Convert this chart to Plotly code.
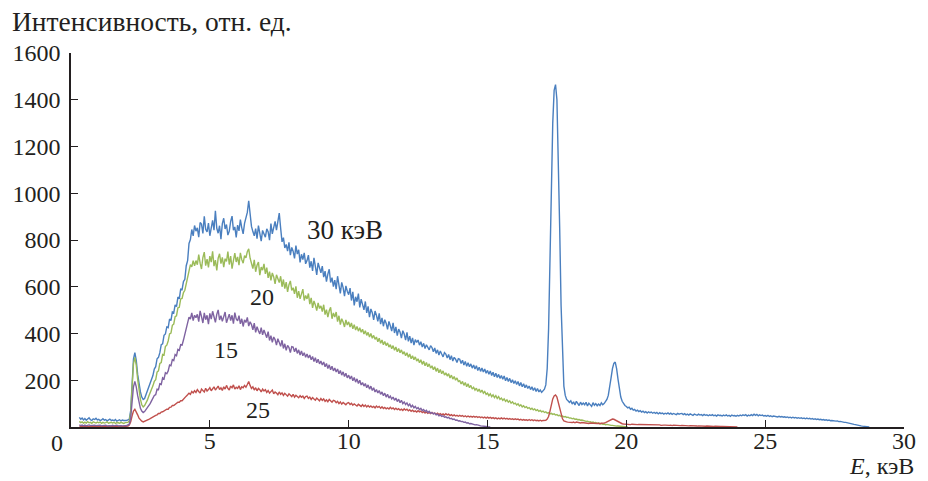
import numpy as np
import plotly.graph_objects as go

# Energy grid: every spectrum starts at E_START (keV), one channel per E_STEP
E_START = 0.3
E_STEP = 0.05

# Intensities. First row: 0.30-0.45 keV, then one row per half keV (10 channels)
spec_30 = [
    41, 33, 38, 30,
    36, 29, 34, 39, 31, 28, 35, 32, 37, 30,
    33, 27, 30, 35, 29, 32, 26, 31, 34, 28,
    30, 27, 32, 25, 29, 31, 26, 30, 28, 27,
    28, 30, 34, 70, 190, 290, 318, 285, 225, 180,
    150, 128, 118, 122, 138, 150, 172, 182, 205, 220,
    248, 258, 292, 298, 318, 352, 356, 392, 398, 428,
    425, 462, 455, 492, 488, 522, 515, 556, 548, 590,
    588, 622, 632, 690, 712, 785, 802, 845, 818, 862,
    838, 852, 812, 875, 868, 828, 901, 846, 835, 872,
    818, 856, 884, 842, 925, 850, 829, 861, 804, 870,
    893, 847, 866, 821, 838, 880, 902, 842, 856, 811,
    864, 839, 887, 852, 826, 871, 890, 918, 968, 902,
    858, 836, 818, 849, 806, 862, 827, 795, 841, 824,
    812, 848, 835, 799, 870, 826, 851, 880, 842, 888,
    915, 851, 792, 810, 766, 781, 752, 790, 735, 768,
    752, 721, 776, 740, 758, 704, 739, 716, 745, 698,
    712, 735, 682, 709, 668, 724, 690, 651, 702, 674,
    660, 688, 641, 667, 622, 654, 675, 618, 639, 601,
    628, 590, 645, 607, 572, 619, 596, 560, 604, 581,
    566, 594, 541, 578, 520, 557, 536, 571, 512, 547,
    524, 501, 537, 488, 516, 470, 505, 489, 458, 496,
    478, 452, 486, 440, 467, 431, 459, 444, 418, 452,
    433, 410, 446, 402, 428, 391, 419, 406, 380, 412,
    398, 372, 405, 366, 389, 359, 381, 350, 374, 362,
    372, 350, 365, 342, 358, 336, 352, 340, 330, 348,
    340, 322, 338, 315, 330, 308, 325, 312, 300, 318,
    312, 295, 310, 288, 305, 282, 298, 290, 276, 292,
    290, 272, 286, 265, 280, 260, 275, 258, 270, 252,
    265, 248, 262, 242, 256, 238, 252, 235, 248, 230,
    242, 226, 240, 220, 234, 215, 230, 212, 225, 208,
    220, 204, 218, 198, 212, 195, 208, 190, 202, 186,
    198, 182, 195, 176, 190, 172, 185, 168, 180, 165,
    175, 160, 172, 156, 168, 152, 165, 150, 158, 148,
    155, 162, 180, 250, 420, 720, 1020, 1300, 1440, 1465,
    1400, 1180, 850, 520, 290, 175, 135, 118, 112, 105,
    112, 98, 108, 94, 110, 100, 92, 106, 96, 102,
    95, 106, 90, 102, 97, 88, 104, 93, 100, 91,
    98, 92, 103, 95, 100, 108, 118, 135, 165, 210,
    250, 272, 278, 250, 205, 160, 128, 110, 100, 92,
    88, 82, 85, 76, 80, 72, 75, 68, 72, 66,
    70, 64, 68, 62, 66, 60, 65, 61, 64, 59,
    63, 58, 62, 56, 61, 57, 60, 55, 59, 56,
    60, 55, 59, 54, 58, 56, 53, 58, 55, 57,
    58, 53, 57, 52, 55, 51, 56, 53, 50, 55,
    54, 50, 55, 51, 53, 49, 54, 50, 52, 48,
    52, 49, 53, 48, 51, 47, 52, 49, 50, 47,
    51, 48, 52, 47, 50, 46, 51, 48, 49, 46,
    50, 47, 51, 48, 52, 49, 53, 47, 51, 48,
    53, 49, 55, 50, 54, 48, 52, 49, 51, 47,
    49, 46, 50, 45, 48, 44, 47, 45, 46, 43,
    46, 43, 45, 42, 44, 41, 43, 40, 42, 39,
    42, 39, 41, 38, 40, 37, 39, 36, 38, 35,
    38, 35, 37, 34, 36, 33, 35, 32, 34, 31,
    33, 30, 32, 29, 31, 28, 30, 27, 28, 26,
    27, 25, 26, 23, 24, 22, 22, 20, 20, 18,
    17, 16, 14, 13, 11, 10, 8, 7, 6, 5,
    4, 3, 2, 1, 1, 0,
]

spec_20 = [
    24, 19, 22, 17,
    21, 17, 23, 18, 20, 16, 22, 19, 17, 21,
    18, 21, 16, 20, 17, 19, 22, 16, 18, 20,
    17, 20, 15, 19, 18, 16, 20, 17, 15, 19,
    18, 20, 26, 60, 170, 270, 298, 265, 205, 150,
    118, 95, 86, 92, 102, 115, 132, 145, 160, 176,
    195, 202, 235, 240, 272, 276, 310, 308, 345, 350,
    368, 398, 402, 435, 440, 472, 476, 510, 512, 548,
    550, 575, 585, 615, 640, 668, 695, 685, 712, 690,
    712, 694, 738, 701, 676, 725, 748, 690, 718, 683,
    731, 705, 752, 688, 714, 670, 722, 741, 699, 726,
    684, 720, 708, 750, 695, 731, 677, 712, 744, 706,
    728, 692, 745, 716, 701, 733, 724, 750, 762, 722,
    701, 678, 715, 664, 692, 706, 650, 684, 671, 698,
    655, 682, 638, 665, 627, 659, 642, 612, 651, 630,
    618, 645, 600, 631, 592, 620, 578, 609, 625, 584,
    596, 570, 602, 553, 581, 548, 574, 590, 541, 563,
    548, 571, 526, 552, 510, 539, 522, 498, 531, 507,
    518, 494, 523, 481, 502, 470, 497, 512, 463, 488,
    470, 492, 451, 476, 438, 463, 449, 428, 458, 436,
    450, 428, 445, 420, 438, 415, 430, 410, 425, 405,
    418, 398, 412, 392, 405, 385, 400, 380, 392, 375,
    385, 365, 380, 358, 372, 352, 366, 348, 360, 342,
    352, 335, 348, 328, 342, 322, 336, 318, 330, 312,
    322, 305, 318, 298, 312, 292, 305, 288, 300, 282,
    292, 275, 288, 268, 282, 262, 276, 258, 270, 252,
    262, 245, 258, 238, 252, 232, 246, 228, 240, 222,
    232, 218, 228, 210, 222, 205, 216, 200, 210, 195,
    198, 184, 195, 178, 190, 172, 185, 168, 178, 162,
    170, 158, 166, 152, 162, 148, 158, 145, 152, 140,
    145, 134, 142, 130, 138, 126, 134, 122, 130, 118,
    124, 114, 120, 110, 116, 106, 112, 102, 108, 99,
    102, 94, 99, 90, 95, 86, 91, 83, 87, 80,
    83, 76, 80, 73, 77, 70, 74, 67, 71, 65,
    68, 62, 65, 59, 62, 56, 59, 54, 56, 51,
    53, 48, 50, 45, 47, 43, 45, 41, 42, 38,
    39, 35, 37, 33, 34, 31, 32, 29, 30, 27,
    27, 24, 25, 22, 23, 20, 21, 18, 19, 16,
    17, 14, 15, 12, 13, 10, 11, 9, 9, 7,
    7, 5, 6, 4, 4, 3, 3, 2, 2, 1,
    1, 0,
]

spec_15 = [
    9, 6, 8, 5,
    8, 5, 7, 9, 6, 7, 5, 8, 6, 7,
    6, 8, 5, 7, 6, 8, 5, 7, 6, 5,
    7, 5, 6, 8, 5, 7, 6, 5, 7, 6,
    6, 8, 12, 40, 110, 172, 195, 172, 135, 100,
    80, 68, 62, 66, 74, 82, 92, 100, 112, 122,
    135, 138, 162, 160, 185, 182, 210, 205, 232, 228,
    240, 265, 262, 288, 284, 310, 305, 332, 328, 352,
    350, 372, 395, 425, 442, 470, 462, 488, 455, 478,
    468, 482, 451, 497, 472, 445, 488, 459, 478, 440,
    486, 462, 495, 470, 448, 482, 501, 458, 476, 452,
    470, 492, 446, 468, 483, 455, 478, 442, 489, 462,
    454, 476, 441, 463, 430, 458, 447, 469, 432, 450,
    438, 416, 444, 405, 429, 412, 398, 425, 394, 415,
    401, 382, 408, 370, 391, 362, 385, 374, 350, 378,
    362, 345, 371, 336, 356, 328, 349, 340, 318, 344,
    342, 322, 338, 315, 330, 308, 325, 305, 318, 298,
    312, 295, 308, 288, 302, 280, 296, 275, 290, 270,
    282, 265, 278, 258, 272, 250, 266, 245, 260, 240,
    252, 235, 248, 228, 242, 222, 236, 216, 230, 210,
    222, 205, 218, 198, 212, 192, 206, 186, 200, 180,
    190, 175, 186, 168, 180, 162, 175, 156, 168, 150,
    160, 146, 156, 140, 150, 134, 145, 128, 140, 124,
    132, 120, 128, 114, 124, 109, 119, 104, 114, 100,
    107, 96, 103, 91, 98, 86, 93, 82, 88, 78,
    83, 74, 80, 70, 75, 66, 71, 62, 67, 59,
    62, 56, 59, 52, 55, 48, 51, 45, 48, 42,
    44, 39, 41, 35, 37, 32, 34, 29, 30, 26,
    27, 23, 24, 20, 21, 17, 18, 14, 15, 12,
    12, 9, 10, 7, 7, 5, 5, 3, 3, 2,
    1, 1, 0,
]

spec_25 = [
    4, 2, 3, 1,
    3, 2, 4, 1, 3, 2, 3, 1, 2, 3,
    2, 3, 1, 3, 2, 4, 2, 3, 1, 2,
    3, 1, 2, 3, 2, 1, 3, 2, 2, 3,
    2, 4, 8, 22, 48, 68, 76, 66, 52, 38,
    30, 25, 22, 24, 26, 30, 33, 36, 40, 42,
    46, 50, 52, 58, 58, 64, 65, 70, 71, 76,
    76, 84, 85, 92, 92, 98, 100, 106, 106, 112,
    112, 120, 124, 132, 138, 145, 140, 152, 146, 155,
    148, 160, 152, 145, 162, 155, 150, 166, 154, 160,
    168, 155, 162, 172, 158, 165, 175, 160, 168, 156,
    172, 162, 178, 165, 158, 175, 168, 180, 162, 170,
    165, 176, 160, 172, 168, 178, 170, 182, 195, 178,
    165, 172, 158, 168, 155, 165, 160, 150, 162, 154,
    160, 148, 156, 145, 152, 158, 142, 150, 145, 138,
    150, 140, 146, 135, 144, 138, 132, 142, 136, 130,
    140, 128, 136, 130, 125, 134, 127, 132, 122, 130,
    132, 122, 128, 118, 126, 120, 115, 124, 118, 112,
    122, 114, 120, 110, 116, 108, 118, 112, 106, 114,
    112, 104, 110, 100, 107, 98, 105, 100, 95, 102,
    104, 96, 101, 93, 99, 94, 90, 97, 92, 88,
    96, 88, 94, 86, 92, 85, 90, 84, 88, 82,
    90, 84, 88, 80, 86, 79, 84, 78, 82, 77,
    84, 78, 82, 75, 80, 74, 78, 72, 76, 71,
    78, 72, 76, 69, 74, 67, 72, 66, 69, 64,
    70, 65, 68, 62, 66, 60, 64, 58, 62, 57,
    62, 57, 60, 54, 59, 53, 57, 52, 56, 51,
    57, 52, 55, 49, 53, 48, 52, 47, 50, 46,
    50, 46, 49, 44, 48, 43, 47, 43, 46, 42,
    46, 42, 45, 41, 44, 40, 43, 39, 42, 38,
    42, 38, 41, 37, 40, 36, 39, 35, 38, 35,
    39, 35, 38, 34, 37, 33, 36, 33, 35, 32,
    35, 32, 34, 30, 33, 29, 32, 29, 31, 28,
    32, 28, 31, 27, 30, 27, 29, 26, 29, 26,
    28, 27, 29, 34, 45, 68, 95, 120, 133, 137,
    128, 105, 78, 52, 35, 26, 23, 22, 21, 20,
    22, 19, 21, 18, 21, 19, 20, 17, 19, 18,
    18, 16, 18, 15, 17, 16, 17, 15, 16, 15,
    16, 14, 16, 15, 17, 19, 22, 26, 30, 33,
    34, 33, 30, 26, 22, 18, 15, 14, 13, 12,
    13, 11, 12, 10, 12, 11, 10, 12, 10, 11,
    11, 9, 10, 9, 11, 9, 10, 8, 10, 9,
    10, 8, 9, 8, 9, 7, 9, 8, 8, 7,
    8, 7, 8, 6, 8, 7, 7, 6, 7, 6,
    7, 6, 7, 5, 6, 5, 6, 5, 6, 5,
    5, 4, 5, 4, 5, 4, 4, 3, 4, 3,
    4, 3, 3, 2, 3, 2, 3, 2, 2, 2,
    2, 1, 2, 1, 1, 1, 1, 0, 1, 0,
    0,
]

x_ticks = [5, 10, 15, 20, 25, 30]
y_ticks = [200, 400, 600, 800, 1000, 1200, 1400, 1600]

# (values, colour, curve label, label position in data units, label size)
series = [
    (spec_30, "#4a7fbf", "30 кэВ", 9.88, 842, 27),
    (spec_20, "#9bbb59", "20", 6.88, 556, 24),
    (spec_25, "#c0504d", "25", 6.74, 73, 24),
    (spec_15, "#7f63a1", "15", 5.60, 329, 24),
]

FONT = "Liberation Serif"
INK = "#231f20"

fig = go.Figure()
for vals, color, *_ in series:
    energy = np.round(E_START + E_STEP * np.arange(len(vals)), 3)
    fig.add_trace(go.Scatter(
        x=energy, y=vals, mode="lines",
        line=dict(color=color, width=1.4),
        showlegend=False, hoverinfo="skip",
    ))

annotations = []
for _, _, text, lx, ly, size in series:
    annotations.append(dict(
        x=lx, y=ly, xref="x", yref="y", text=text, showarrow=False,
        font=dict(family=FONT, size=size, color=INK),
    ))

# axis titles and the shared origin label
annotations += [
    dict(x=-0.0733, y=1.083, xref="paper", yref="paper",
         text="Интенсивность, отн. ед.", showarrow=False,
         xanchor="left", yanchor="middle",
         font=dict(family=FONT, size=27.5, color=INK)),
    dict(x=1.014, y=-0.1444, xref="paper", yref="paper",
         text="<i>E</i>, кэВ", showarrow=False,
         xanchor="right", yanchor="bottom",
         font=dict(family=FONT, size=24, color=INK)),
    dict(x=-0.017, y=-0.043, xref="paper", yref="paper",
         text="0", showarrow=False, xanchor="center", yanchor="middle",
         font=dict(family=FONT, size=24, color=INK)),
]

fig.update_layout(
    width=928, height=481,
    margin=dict(l=68, r=14, t=53, b=54),
    paper_bgcolor="white", plot_bgcolor="white",
    annotations=annotations,
    font=dict(family=FONT, size=24, color=INK),
)
fig.update_xaxes(
    range=[0, 30], tickvals=x_ticks, ticktext=[str(v) for v in x_ticks],
    showgrid=False, zeroline=False,
    showline=True, linecolor=INK, linewidth=1.5,
    ticks="inside", ticklen=7, tickwidth=1.3, tickcolor=INK,
    tickfont=dict(family=FONT, size=24, color=INK),
    ticklabelstandoff=-9,
)
fig.update_yaxes(
    range=[0, 1600], tickvals=y_ticks, ticktext=[str(v) for v in y_ticks],
    showgrid=False, zeroline=False,
    showline=True, linecolor=INK, linewidth=1.5,
    ticks="inside", ticklen=7, tickwidth=1.3, tickcolor=INK,
    tickfont=dict(family=FONT, size=24, color=INK),
    ticklabelstandoff=4,
)

fig.write_html("out.html")
